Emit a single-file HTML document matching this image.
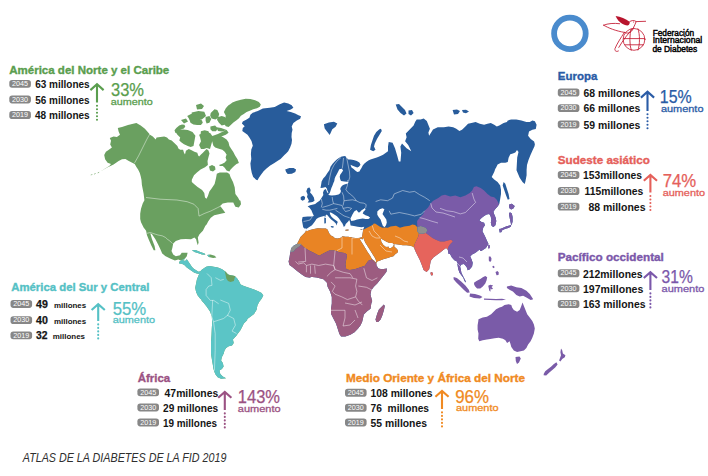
<!DOCTYPE html>
<html lang="es"><head><meta charset="utf-8"><title>Atlas de la Diabetes de la FID 2019</title>
<style>
html,body{margin:0;padding:0;background:#fff;}
body{width:708px;height:476px;overflow:hidden;position:relative;font-family:'Liberation Sans',Arial,sans-serif;}
svg text{font-family:'Liberation Sans',Arial,sans-serif;}
</style></head><body>
<svg width="708" height="476" viewBox="0 0 708 476" style="position:absolute;left:0;top:0">
<defs>
<clipPath id="cAm"><path clip-rule="evenodd" d="M100.8 171.2 105.1 168.6 109.3 166.1 111.0 164.1 107.6 162.7 105.1 159.3 104.2 155.1 105.9 151.7 108.5 150.0 111.9 147.5 110.2 144.4 111.0 140.7 109.8 138.1 113.6 136.4 116.9 136.9 120.0 134.7 118.6 131.4 117.8 128.0 122.0 127.1 128.0 125.1 133.1 123.7 136.4 122.9 140.7 125.4 144.9 128.8 149.5 133.9 150.0 134.7 152.8 136.6 155.7 139.5 156.6 137.6 160.4 137.1 164.2 136.6 167.0 137.6 168.9 139.5 171.7 140.4 174.6 143.2 177.4 146.1 178.4 148.4 180.2 149.8 183.1 149.8 184.0 152.7 185.0 154.6 185.9 150.8 188.8 148.9 191.6 150.3 194.4 151.7 197.3 152.7 198.2 155.5 199.1 156.5 201.0 154.6 202.9 152.7 204.8 150.8 206.7 148.9 208.5 150.5 209.5 153.5 208.5 157.0 207.5 161.0 207.9 165.0 205.0 167.2 200.6 169.4 196.9 172.4 194.0 175.3 191.8 179.7 191.8 181.9 194.0 184.1 197.6 187.1 202.1 190.0 204.3 192.9 205.0 197.4 206.5 198.8 207.9 195.9 209.4 191.5 211.6 188.5 214.6 184.1 216.0 178.2 216.8 173.8 219.7 172.5 224.0 172.5 227.1 172.5 229.5 174.0 230.5 177.1 233.0 182.1 234.7 187.2 235.4 194.1 238.0 197.5 239.7 200.8 236.3 204.2 232.9 202.5 227.8 202.5 222.7 203.4 220.2 205.9 222.7 209.3 225.3 212.7 221.9 213.6 217.6 214.4 214.2 215.3 210.8 217.8 208.3 221.2 206.6 224.6 205.4 225.7 202.9 230.8 199.5 234.2 197.8 237.5 198.6 242.6 197.8 245.2 196.9 242.6 196.1 239.2 194.4 237.5 191.0 239.2 185.9 238.9 180.8 239.2 175.8 240.9 173.2 243.5 172.4 247.7 171.5 251.1 173.2 254.5 175.8 256.2 180.0 255.3 181.7 252.8 185.1 252.8 187.6 252.8 186.8 256.2 184.2 259.6 180.8 260.4 178.3 259.6 174.9 260.4 170.7 258.7 165.6 256.2 162.2 253.6 160.5 249.4 158.0 244.3 155.4 239.2 152.0 234.2 150.3 233.3 152.0 239.2 154.6 246.0 155.4 250.3 153.7 250.3 151.2 245.2 148.6 239.2 146.9 235.0 146.1 230.8 143.6 227.4 141.0 222.3 140.2 218.9 140.2 213.8 141.0 208.7 142.7 203.6 144.4 200.3 143.6 193.5 141.9 185.0 141.5 180.0 140.7 176.3 139.8 172.9 138.1 169.5 136.4 166.9 134.7 164.1 132.2 162.7 128.8 161.0 125.4 159.0 122.0 159.3 118.6 161.0 113.6 164.4 106.8 167.8Z"/><path d="M209.0 166.5 212.0 165.0 215.0 166.5 215.5 169.5 213.0 171.5 210.0 170.5Z"/><path d="M175.5 131.9 178.4 130.0 183.0 129.5 187.8 130.0 192.5 131.9 195.4 135.7 194.4 141.3 193.5 146.1 190.6 147.0 187.8 146.1 184.0 144.2 181.2 142.3 179.3 140.4 180.2 137.6 177.4 134.7Z"/><path d="M174.5 130.2 176.3 127.9 179.2 125.5 182.0 124.4 184.4 124.8 185.3 126.5 183.9 128.4 181.5 129.3 179.2 130.2 177.3 132.1 175.4 133.1Z"/><path d="M187.2 116.1 190.5 114.2 193.4 113.2 196.2 113.7 195.2 115.6 193.4 117.0 196.2 118.9 199.0 119.4 201.9 120.3 202.8 122.7 200.9 125.0 197.1 125.0 193.4 124.6 190.5 122.7 189.6 120.3 188.6 118.0Z"/><path d="M205.6 117.0 209.4 116.1 211.3 118.9 209.4 122.7 206.6 123.6 205.6 120.8Z"/><path d="M210.7 113.0 214.5 109.2 217.3 110.1 219.2 113.9 218.2 117.7 215.4 119.6 211.6 118.6 210.2 115.8Z"/><path d="M217.9 117.0 221.7 116.1 225.0 117.0 225.5 121.0 225.0 124.6 221.7 125.5 218.9 122.7 217.0 119.8Z"/><path d="M200.9 131.2 204.7 130.2 208.5 131.2 209.4 134.0 207.5 137.8 204.7 140.6 201.9 139.7 200.4 135.9Z"/><path d="M210.4 126.5 215.1 125.5 217.9 128.4 216.0 131.2 212.3 131.2 210.4 129.3Z"/><path d="M199.1 134.7 202.9 132.8 206.7 133.8 210.0 132.8 212.3 135.9 217.9 134.0 223.6 131.2 226.7 130.0 228.6 132.8 225.8 134.7 221.1 136.6 216.3 140.0 212.0 142.0 210.0 148.9 206.7 148.0 203.9 148.9 201.0 148.9 199.1 145.1 201.0 141.3 200.1 137.6Z"/><path d="M216.3 127.1 221.1 128.1 226.7 130.0 222.0 131.5 218.0 131.0Z"/><path d="M232.4 102.6 236.2 101.1 240.9 99.7 245.6 98.8 250.4 99.0 255.1 100.2 258.9 102.1 260.8 104.5 259.8 106.8 257.0 108.2 253.2 109.2 250.4 110.6 246.6 112.0 243.8 113.9 240.9 115.8 239.0 118.2 236.2 120.5 233.4 122.4 230.5 125.2 228.6 127.1 225.8 126.2 223.9 123.4 224.8 119.6 225.8 115.8 223.9 112.0 225.8 108.2 228.2 105.4 230.5 104.0Z"/><path d="M212.4 142.3 216.2 137.6 220.0 136.1 222.8 137.1 226.6 139.5 228.5 142.3 229.4 146.1 231.3 148.9 233.2 151.7 235.1 155.5 237.5 159.3 238.9 163.1 236.5 164.0 234.1 165.9 232.3 167.8 230.4 169.7 229.4 171.6 226.6 170.6 224.7 167.8 222.8 165.9 220.0 165.9 219.0 165.0 221.9 164.0 224.7 162.6 226.6 160.2 225.6 157.4 226.6 154.6 224.7 151.7 222.3 149.8 218.1 148.4 215.2 147.4 213.4 145.8Z"/><path d="M191.7 112.6 198.4 111.0 204.3 111.8 206.0 116.0 201.8 119.4 196.7 120.2 191.7 118.5Z"/><path d="M196.0 105.0 201.0 103.5 204.0 106.0 202.0 109.0 197.0 109.5Z"/><path d="M181.0 120.0 186.0 118.5 188.0 121.5 184.0 123.5Z"/><path d="M232.9 200.0 237.1 199.2 240.5 200.8 241.0 204.2 238.8 207.6 235.4 206.8 233.7 203.4Z"/><path d="M99.5 171.8 98.0 172.6 97.4 173.2 98.6 172.9Z"/><path d="M96.0 173.2 94.2 173.8 93.8 174.4 95.4 174.0Z"/><path d="M92.5 174.3 90.8 174.8 90.6 175.3 92.2 175.0Z"/><path d="M191.9 249.9 196.1 250.3 200.3 251.9 204.6 253.6 205.4 254.8 202.0 254.5 197.8 253.1 194.4 251.9Z"/><path d="M207.1 255.0 210.5 254.5 214.7 255.8 216.4 257.5 213.1 257.9 208.8 257.0Z"/><path d="M201.1 270.2 203.6 268.5 206.1 266.8 209.5 266.0 213.7 266.8 217.9 267.6 222.1 269.3 225.5 271.8 228.0 274.4 230.5 275.2 234.7 276.1 237.2 278.6 238.9 281.1 240.6 284.5 243.9 286.1 249.0 287.8 254.0 289.5 258.2 291.2 261.6 292.9 263.3 295.4 261.6 298.7 259.1 302.1 257.4 305.5 256.6 309.7 254.0 313.9 250.7 316.4 247.3 318.9 247.1 320.2 243.8 323.5 242.1 326.9 240.4 330.3 237.9 333.6 236.2 336.1 234.5 337.8 232.9 339.5 233.7 342.9 232.0 345.4 228.7 346.2 226.1 347.9 224.5 350.4 223.6 353.8 221.9 357.1 221.1 360.5 222.8 363.0 223.6 366.4 221.9 368.9 219.4 370.6 220.3 373.9 222.8 376.5 226.1 378.2 221.1 378.7 217.7 377.3 215.2 373.9 213.5 368.9 212.7 363.9 211.8 358.8 211.0 353.8 211.0 348.7 211.0 342.0 211.5 335.3 211.8 328.6 212.2 321.8 211.8 316.8 210.2 311.8 206.8 306.7 203.4 302.5 200.9 300.0 203.6 301.3 200.3 298.7 197.7 295.4 196.1 292.0 195.2 287.8 196.1 283.6 196.9 279.4 198.6 275.2Z"/><path d="M179.2 261.8 182.6 260.1 185.1 260.9 186.8 259.2 188.5 261.8 190.2 264.3 191.8 266.8 193.5 268.5 196.1 270.2 198.6 271.8 201.1 271.0 201.6 272.2 199.4 273.9 196.9 273.5 194.4 272.7 191.8 271.0 189.3 269.3 186.8 267.6 184.3 265.1 181.8 263.8 179.2 263.4Z"/></clipPath>
<clipPath id="cEu"><path clip-rule="evenodd" d="M306.3 228.5 304.4 228.5 303.2 227.2 302.6 224.0 301.9 220.3 302.6 217.1 307.6 216.5 311.4 216.5 313.9 215.9 312.6 213.3 311.4 210.2 309.5 207.7 307.6 206.4 310.1 205.2 313.3 204.5 315.2 203.9 317.0 202.6 319.6 200.7 320.8 198.9 322.1 197.0 323.3 195.1 323.0 192.6 324.0 190.0 325.9 189.0 326.8 191.5 327.8 193.3 328.4 192.5 327.4 190.5 326.8 188.5 325.5 187.0 323.0 187.8 320.5 188.0 321.1 184.7 321.6 181.5 323.2 178.4 325.3 176.3 327.4 173.1 329.5 170.0 330.5 166.8 332.6 163.7 334.7 161.6 336.8 159.5 338.9 157.9 341.0 156.8 343.1 156.3 345.2 156.1 346.8 157.9 348.4 159.5 350.5 159.5 353.6 160.0 356.8 161.0 359.4 162.6 360.5 164.7 358.9 166.8 357.3 167.4 355.2 166.8 352.6 165.8 350.5 164.7 351.5 167.4 353.6 168.9 355.2 170.5 357.3 172.1 359.4 171.6 360.5 169.5 361.5 167.9 362.6 165.8 364.2 163.7 366.3 162.1 368.4 160.5 370.5 159.5 373.6 158.4 376.8 157.4 379.9 156.3 383.1 154.7 385.2 153.2 388.0 151.3 388.0 146.6 388.7 142.0 392.6 142.7 395.0 148.2 397.3 155.9 398.8 161.4 400.5 161.5 401.2 152.8 400.4 146.6 402.0 143.5 406.6 148.2 411.3 151.3 408.2 145.1 405.1 141.2 406.6 137.3 405.8 133.4 409.7 129.5 413.6 125.6 415.2 121.8 416.7 119.4 420.6 119.4 423.7 118.6 426.8 121.0 428.4 124.9 429.9 128.7 428.4 132.6 429.1 135.7 433.0 129.5 437.7 127.2 443.9 127.2 448.6 126.4 453.2 127.2 456.3 128.7 459.4 131.1 462.0 129.7 465.4 126.4 468.0 123.8 471.4 123.0 475.6 122.1 479.8 123.8 484.1 124.7 487.5 123.8 490.8 123.0 494.2 124.7 496.8 126.4 499.3 125.5 503.6 123.0 506.9 122.1 507.8 120.4 511.2 119.6 516.3 119.6 521.4 120.4 526.4 122.1 529.8 122.1 532.4 120.4 534.9 121.3 536.6 124.7 535.8 128.9 532.4 129.7 529.0 131.4 528.1 135.7 530.7 139.1 534.1 141.6 534.9 144.2 534.5 146.2 532.5 150.5 530.5 155.0 528.5 160.0 527.0 165.0 526.6 170.0 526.6 175.3 525.4 181.6 524.7 184.1 522.5 182.0 519.7 177.8 516.5 170.2 517.2 157.6 518.5 152.0 517.0 150.0 515.3 152.6 512.9 153.5 510.3 154.3 508.6 157.7 507.8 161.9 505.3 162.8 501.0 162.8 497.6 164.5 495.9 167.9 494.2 171.3 495.9 167.6 494.2 171.9 491.7 176.9 494.2 179.5 497.6 182.0 500.2 185.4 501.0 189.7 501.0 193.9 500.2 199.0 499.3 204.1 497.6 206.6 495.1 209.2 493.4 211.7 494.2 214.2 495.6 217.6 496.3 221.0 495.4 225.3 493.4 226.9 491.7 226.1 490.8 222.7 491.4 219.3 490.5 215.9 489.2 213.9 486.6 214.6 484.1 215.9 481.5 218.1 479.3 220.2 481.5 221.9 484.1 222.7 484.9 225.3 483.2 227.8 482.4 231.2 484.1 234.6 485.8 238.0 486.6 240.0 488.5 243.9 485.9 248.1 481.7 250.7 480.5 251.0 479.6 249.4 476.5 252.0 474.6 253.2 472.1 254.5 470.2 256.4 471.4 258.9 472.7 262.7 472.1 266.4 469.6 269.6 467.7 270.2 467.0 267.7 465.2 265.2 463.9 263.9 461.4 264.6 460.1 266.4 460.7 269.0 461.4 272.7 462.6 275.3 463.9 277.8 465.8 281.6 465.8 282.4 464.5 281.0 463.3 277.8 461.4 275.3 459.5 272.7 458.2 269.0 457.6 265.2 457.0 261.4 454.4 260.2 451.9 257.6 450.0 253.9 448.6 254.1 447.8 249.8 446.1 248.1 443.6 249.8 440.2 252.4 436.8 254.9 433.4 257.5 430.8 260.8 430.0 265.1 429.2 269.3 426.6 271.9 423.6 270.0 421.7 264.7 419.8 260.0 417.9 256.2 416.5 253.4 415.1 250.5 414.1 247.7 413.2 246.7 410.4 245.8 406.6 245.3 402.8 245.3 398.1 244.4 394.3 243.9 394.3 246.7 396.2 248.2 398.1 250.5 397.6 252.4 395.2 254.3 393.4 256.2 390.5 257.1 387.7 258.1 383.9 259.0 380.1 260.4 377.3 261.4 376.3 262.8 376.5 265.5 378.5 268.5 381.9 269.2 386.9 268.4 386.5 271.7 384.0 275.0 380.6 279.2 377.2 283.4 373.9 286.8 371.3 290.2 370.5 294.4 371.3 297.7 372.2 301.1 371.3 303.6 370.5 308.7 367.1 311.2 363.8 314.5 362.9 318.7 362.1 322.1 360.4 325.5 357.9 328.8 354.5 332.2 350.3 334.7 345.3 336.4 341.1 336.4 339.4 333.9 337.7 328.8 336.1 323.8 333.5 318.7 331.0 313.7 331.0 308.7 331.8 303.6 331.8 296.9 330.2 291.8 327.6 286.8 326.8 282.6 323.4 279.2 316.7 277.6 310.0 276.7 310.7 277.7 305.6 276.9 301.4 274.3 297.1 270.9 292.9 267.5 289.5 265.0 288.6 261.6 289.5 257.4 290.3 252.3 291.2 248.1 293.7 245.5 297.1 243.8 298.8 240.4 300.5 237.0 303.9 233.6 305.5 232.0ZM339.3 169.2 341.8 168.8 343.1 170.5 341.8 172.6 340.2 174.7 339.7 176.8 340.2 179.3 341.0 181.0 344.4 181.4 346.9 181.8 348.6 182.3 347.7 183.5 344.4 184.4 342.7 185.2 341.0 186.9 340.2 189.0 341.0 191.1 340.2 193.2 338.5 194.5 335.1 195.3 331.8 195.5 329.5 195.2 328.2 194.3 329.5 193.5 330.3 191.5 330.9 189.4 331.5 187.7 332.6 185.2 333.4 183.1 334.3 181.0 334.7 178.5 335.5 176.4 336.8 174.3 338.1 171.8ZM305.8 230.8 306.3 229.0 308.9 227.2 312.0 225.3 313.9 222.8 315.2 220.9 316.4 219.0 318.3 217.7 320.2 217.1 322.1 216.5 324.0 215.9 325.9 215.2 326.8 214.4 328.1 216.0 329.7 217.9 331.2 219.5 332.8 220.7 334.1 221.7 335.3 223.0 336.3 223.9 336.2 225.5 337.0 224.5 337.2 223.0 337.9 222.0 336.5 220.8 334.7 219.5 333.1 218.2 331.5 216.7 330.3 214.8 329.7 212.6 330.9 212.6 333.1 213.8 335.0 215.1 336.9 216.3 338.8 218.2 340.0 220.1 341.3 222.0 342.3 223.3 343.2 225.2 343.8 227.0 345.1 225.8 345.7 223.9 347.0 222.6 348.2 221.4 349.2 220.1 350.0 222.0 350.3 224.0 350.6 225.4 353.9 225.9 357.7 226.8 361.5 227.3 364.3 226.8 363.4 228.7 362.9 231.5 362.4 234.8 361.9 237.2 359.6 237.7 356.7 238.2 353.9 237.7 351.1 237.2 348.2 236.7 345.4 236.7 342.6 236.3 340.7 237.7 337.8 238.6 335.0 238.2 333.0 236.5 330.9 235.4 329.0 232.9 327.7 229.7 325.9 228.5 322.0 228.6 318.0 228.3 314.0 229.0 310.0 230.0 307.5 231.0ZM350.4 218.6 351.5 216.5 352.3 214.8 354.2 211.5 356.5 210.1 357.5 211.2 358.6 212.6 359.8 212.3 361.3 210.6 363.2 209.2 365.0 208.2 365.5 209.7 363.6 211.5 362.7 213.4 365.5 215.3 368.4 216.3 370.2 217.7 368.4 219.1 365.5 219.1 362.7 218.6 359.8 219.1 357.0 219.6 354.2 220.5 351.3 221.0ZM377.3 211.5 379.7 209.2 382.5 208.2 384.4 209.2 383.5 211.5 382.5 213.9 384.4 216.7 386.3 219.6 386.8 222.4 386.0 225.2 384.5 227.3 382.8 225.8 381.6 222.4 380.6 219.6 378.8 217.2 377.3 214.8ZM361.0 238.5 362.3 239.5 363.4 237.7 364.0 239.5 365.2 242.4 367.6 246.2 370.0 250.0 372.3 253.8 374.7 257.5 375.8 259.8 376.2 261.6 375.3 262.2 374.0 260.5 371.9 259.0 370.0 255.6 367.6 251.9 365.2 248.1 362.9 244.3 360.5 240.5 359.8 239.0ZM380.8 238.5 383.5 240.0 386.5 241.8 389.5 243.0 392.5 243.0 394.0 244.6 393.0 246.5 391.0 247.9 389.0 248.3 388.3 246.5 387.2 247.0 385.5 246.8 383.2 244.8 381.3 241.8Z"/><path d="M375.5 319.6 377.2 313.7 378.9 309.5 381.4 307.0 383.9 304.5 384.8 306.1 383.9 310.3 382.3 315.4 380.6 319.6 378.1 322.1 376.4 322.1Z"/><path d="M307.6 188.1 309.5 187.5 310.7 190.0 310.1 192.6 312.0 194.4 313.9 197.6 314.5 200.7 312.6 202.0 309.5 202.6 307.6 202.6 308.9 200.7 308.2 198.9 307.0 197.0 307.6 194.4 306.3 191.3Z"/><path d="M300.7 197.0 303.2 195.7 305.1 197.0 304.8 199.5 302.6 200.7 300.7 199.5Z"/><path d="M330.6 226.1 333.7 226.2 333.4 227.7 331.5 227.4Z"/><path d="M324.3 217.6 325.9 217.9 325.9 223.3 324.3 223.6Z"/><path d="M324.6 214.4 325.6 214.4 325.6 216.7 324.6 216.7Z"/><path d="M345.5 229.8 348.5 229.6 348.5 230.6 345.5 230.8Z"/><path d="M360.4 229.2 362.5 229.0 362.2 229.8 360.4 229.8Z"/><path d="M430.8 271.9 432.5 272.4 433.1 274.7 431.7 275.8 430.5 274.1Z"/><path d="M381.0 128.7 381.8 131.1 379.4 135.0 377.1 138.8 374.8 143.5 374.0 146.6 375.5 149.7 373.2 151.3 370.1 149.7 370.9 145.1 372.4 140.4 374.0 135.7 376.3 131.9 379.4 129.2Z"/><path d="M395.7 104.5 399.0 104.0 402.0 107.0 405.0 110.0 406.5 113.5 404.0 115.5 400.5 113.0 397.5 109.5Z"/><path d="M408.5 110.5 412.0 110.0 413.6 113.0 411.0 115.5 408.5 114.0Z"/><path d="M452.6 110.0 457.0 109.5 460.0 111.0 458.0 114.0 454.0 114.5Z"/><path d="M462.0 110.0 466.0 109.8 469.0 111.5 466.0 113.2 463.0 112.6Z"/><path d="M503.6 182.0 505.3 183.7 506.9 188.8 508.6 193.9 509.5 199.0 507.8 199.8 506.1 195.6 504.4 190.5 502.7 185.4Z"/><path d="M509.5 204.2 511.8 203.7 514.7 206.0 513.6 208.3 511.2 209.5 509.5 208.3 508.9 206.0Z"/><path d="M509.9 212.3 511.8 213.5 512.6 217.0 512.6 221.6 511.8 224.5 509.5 225.6 506.6 226.2 503.7 227.4 501.4 228.5 499.7 229.1 499.5 230.8 500.8 231.1 503.2 229.7 505.5 228.8 508.4 227.9 510.7 226.8 511.2 225.1 510.7 222.7 510.1 219.9 509.5 217.0 508.9 214.1Z"/><path d="M499.1 228.8 501.2 229.6 501.8 232.0 499.7 232.6Z"/></clipPath>
</defs>
<g clip-path="url(#cAm)"><rect x="90" y="90" width="200" height="300" fill="#6aa060"/>
<path d="M170 262 179.5 260.5 183 259.6 185 258.3 188 258.8 189 256 190 249 209.5 249 209.5 262 260 262 280 300 280 390 190 390 190 300 170 275Z" fill="#5bc5c6"/>
<path d="M224 268 228 268 231 272 236 276 234.7 277.7 233.9 281.1 230.5 281.9 228 281.1 226.3 278.6 225.5 274.4Z" fill="#6aa060"/>
</g>
<path d="M252.7 112.8 257.8 111.1 262.9 108.6 269.7 107.7 274.7 106.9 279.8 104.3 284.1 102.6 288.3 103.5 291.7 105.2 293.4 107.7 290.8 109.4 286.6 111.1 290.8 111.9 295.1 113.6 298.5 115.3 301.0 116.2 300.2 118.7 296.8 120.4 293.4 123.0 291.7 126.4 292.5 129.7 291.7 133.1 291.5 137.0 292.0 140.0 291.5 143.8 290.1 147.6 288.2 151.3 286.3 153.2 284.4 155.1 282.5 157.0 280.6 158.9 277.8 160.8 274.0 163.2 270.2 165.5 266.5 168.4 263.6 171.2 260.8 175.0 258.9 177.8 257.5 180.2 256.1 179.7 253.2 176.9 251.8 173.1 250.9 168.4 250.4 163.6 251.3 158.9 250.9 154.2 251.3 149.5 252.8 145.7 251.5 141.0 249.4 137.5 247.5 134.7 244.7 132.8 242.3 130.9 242.8 128.1 244.7 126.2 241.9 123.4 242.8 121.5 246.6 119.6 249.4 117.7 250.4 114.8ZM285.2 169.6 289.4 167.9 293.6 167.9 296.1 169.6 295.3 172.1 291.9 173.8 287.7 174.1 286.1 172.1ZM323.9 124.2 328.9 122.5 333.9 121.7 337.3 123.4 335.6 126.7 332.3 129.2 329.7 135.1 327.2 131.8 324.7 128.4Z" fill="#285c9b"/>
<g clip-path="url(#cEu)"><rect x="280" y="90" width="300" height="300" fill="#285c9b"/>
<path d="M285 236 298 233 303 231 306 230.2 309 229.3 312 227.6 320 227 327 226.6 329.5 228.3 334 228.4 337 227.8 345 228.5 355 229 361 229.5 363.7 229.5 367.1 227.8 372.2 225.3 373.9 223.6 375.5 223.7 379.6 226.4 382.3 227.8 385 227.4 387.8 227.8 390.5 226.4 396 225.7 400 227.8 404.2 226.4 409.6 225.7 412.3 224.4 415.1 225.1 417.1 227.1 417.3 231.2 419 233.7 418.1 237.1 416.4 240.5 414.7 243.9 413.9 247.3 415.6 249.8 412 256 395 266 383 267 377 264 372 259.5 368.3 260.8 364.9 265.8 359.8 267.5 354.7 269.2 349.7 270.1 346.3 269.2 345.4 264.2 346.3 259.1 347.1 254.8 344.6 253.1 339.5 252.3 334.4 250.6 329.3 250.6 324.2 253.1 319.2 255.7 314.1 253.1 309 250.6 303.9 247.2 301.4 244.7 297 243.8 285 243.8Z" fill="#e98424"/>
<path d="M270 252.3 290.3 252.3 293.7 251.4 295.4 248.9 298 247.2 300.5 245.5 301.4 244.7 303.9 247.2 309 250.6 314.1 253.1 319.2 255.7 324.2 253.1 329.3 250.6 334.4 250.6 339.5 252.3 344.6 253.1 347.1 254.8 346.3 259.1 345.4 264.2 346.3 269.2 349.7 270.1 354.7 269.2 359.8 267.5 364.9 265.8 368.3 260.8 372 259.5 377 264 383 267 400 266 410 350 270 350Z" fill="#9c5c80"/>
<path d="M289.5 251.4 291.2 248.1 293.7 245.5 297.1 243.8 301.4 243.8 300.5 245.5 298 247.2 295.4 248.9 293.7 251.4 290.3 252.3 285 253 285 250Z" fill="#8f8f8f"/>
<path d="M417.3 226.9 417.1 221 419.7 217.6 423.1 214.2 424.7 210.8 428.1 207.5 430.7 203.2 433.2 200.7 438.3 198.1 441.7 195.6 445.1 194.7 450.2 196.4 455.3 195.6 460.3 197.3 465.4 195.6 469.7 193.1 472.2 190.5 473.9 187.1 476.4 186.3 480.7 188 484.1 190.5 487.5 193.9 490.8 196.4 494.2 197.3 496.8 199.8 498.5 203.2 499.3 204.9 500.5 206.5 505 205 515 200 540 220 570 300 570 390 440 390 440 290 446 275 447 252 447.8 249 448.6 246.4 450.3 243.9 452.9 241.4 451.2 239.7 447.8 240.5 444.4 241.4 440.2 241.4 435.9 239.7 432.5 238 429.2 235.4 425.8 232.9 427.5 230.3 425.8 227.8 420.7 226.1Z" fill="#7a5ba8"/>
<path d="M419 233.7 422.4 233.7 425.8 232.9 429.2 235.4 432.5 238 435.9 239.7 440.2 241.4 444.4 241.4 447.8 240.5 451.2 239.7 452.9 241.4 450.3 243.9 448.6 246.4 447.8 249 447 252 440 262 432 278 420 278 410 256 413 250 415.6 249.8 413.9 247.3 414.7 243.9 416.4 240.5 418.1 237.1Z" fill="#e6645c"/>
<path d="M417.3 226.9 420.7 226.1 425.8 227.8 427.5 230.3 425.8 232.9 422.4 233.7 419 233.7 417.3 231.2Z" fill="#8f8f8f"/>
</g>
<path d="M488.2 244.7 489.8 244.9 490.0 247.5 488.8 249.3 488.0 247.5ZM453.6 277.1 456.9 278.0 461.2 281.4 465.4 285.6 468.8 289.8 469.7 292.4 467.1 292.7 463.7 289.8 459.5 285.6 456.1 282.2 453.6 279.2ZM470.0 293.5 475.0 294.0 480.0 295.5 482.5 297.0 480.0 298.5 474.0 298.0 469.5 296.5ZM474.0 282.8 476.5 280.9 480.3 279.0 482.8 277.2 485.3 275.9 487.2 277.2 486.6 280.3 485.3 283.5 482.8 286.6 480.3 288.5 477.1 288.5 475.2 286.6 474.2 284.7ZM488.2 285.8 490.3 284.8 493.2 285.4 491.5 287.0 493.0 288.5 491.8 289.4 490.6 288.6 490.4 291.8 489.2 290.5 488.8 288.2ZM488.8 256.6 490.5 256.4 491.5 258.5 491.2 261.0 490.0 262.0 488.8 260.5ZM495.5 272.0 497.5 271.0 498.8 272.5 498.5 275.0 496.5 275.3ZM492.3 266.3 494.0 265.8 494.6 267.5 493.0 268.3ZM506.9 286.4 511.2 285.6 516.3 287.3 521.4 288.1 526.4 290.7 529.8 294.1 533.2 299.2 530.7 300.0 526.4 297.5 523.1 295.8 519.7 296.6 516.3 294.9 512.9 291.5 509.5 289.8 506.9 288.1ZM484.0 298.5 490.0 298.8 496.0 299.0 502.0 298.8 506.0 299.5 502.0 300.3 496.0 300.2 490.0 300.0 484.0 299.7ZM478.5 319.3 482.7 317.6 486.9 316.8 491.1 314.3 493.6 311.8 496.1 309.2 499.5 307.6 502.0 306.7 504.5 305.0 508.7 304.2 511.3 305.0 512.1 307.6 513.8 310.1 517.1 311.8 519.7 310.1 521.3 305.9 522.5 302.5 523.9 305.9 525.5 310.1 527.2 314.3 529.7 317.6 532.3 321.0 533.9 324.4 534.8 328.6 533.9 333.6 532.3 337.8 530.6 341.2 528.1 344.5 526.4 347.9 523.9 350.4 520.5 351.3 517.1 352.1 513.8 350.4 511.3 347.1 510.4 343.7 509.6 341.2 507.1 342.9 505.4 340.3 502.9 338.7 498.7 337.8 494.5 338.3 490.3 339.0 486.9 339.5 482.7 340.3 479.3 341.2 478.2 338.7 478.5 333.6 477.6 329.4 477.6 325.2 478.2 321.8ZM515.5 357.0 519.5 356.5 520.8 358.5 519.0 362.5 517.0 364.0 515.8 361.0ZM561.0 348.4 562.2 350.3 562.9 353.4 565.4 355.3 564.8 357.2 562.2 359.1 560.4 361.6 559.1 360.4 560.1 357.8 561.0 355.3 560.4 352.2ZM556.4 362.3 557.6 364.6 555.2 367.6 552.0 370.3 548.8 372.9 546.2 375.6 543.6 375.2 543.8 373.8 545.2 371.3 548.0 369.1 551.0 366.7 553.6 364.2Z" fill="#7a5ba8"/>
<g fill="none" stroke="#ffffff" stroke-opacity="0.75" stroke-width="0.6"><polyline points="150,133.7 147,139 144,145 141,151 138.5,156 134.5,163"/><polyline points="146,197.5 160,199.2 176.9,200 187.1,201.7 193.9,204.2 198.1,208.5 199,216.1 204.1,213.6 210.8,211 217.6,207.6 221,205.9"/><polyline points="147,233.3 150.3,232.5 155.4,234.2 158,235 162.2,235.8 165.6,237.5 167.3,239.2 169.8,240.9 172.4,243.5"/><polyline points="440,208.3 446.8,210.8 453.6,211.7 460.3,213.9 465.4,212.5 469.7,208.3 475.6,202.4 473.9,199 472.2,193"/><polyline points="375.6,201.5 380.7,199.8 387.5,200.7 392.5,198.1 394.2,193.9 402.7,190.5 409.5,192.2 414.6,191.4 419.7,194.7 424.7,197.3 429.8,200.7"/><polyline points="389.2,210.8 390.8,214.2 399.3,212.5 407.8,214.2 414.6,215.9 421.4,214.2 424.7,210.8"/><polyline points="347.8,180 347.3,185.7 345.9,189.5 347.8,192.3 351.6,195.1 354.4,198 356.3,200.8 360.1,202.7 363.9,203.2 366.2,204.6 365.8,207.4 363.9,209.3"/><polyline points="344,200.8 347.8,200.3 352.5,199.8 356.3,200.8"/><polyline points="342.1,192.3 343.6,196.1 344,200.8 343.1,205.5"/><polyline points="332.2,197 332.7,200.8 333.6,203.6"/><polyline points="321.3,198.9 322.3,203.6 321.3,207.4"/><polyline points="322.3,207.4 328.9,205.5 333.6,203.6 338.4,204.6 342.1,205.5 343.1,208.4 347.8,207.4 351.6,208.4"/><polyline points="322.3,209.3 326.1,210.2 329.8,210.2 333.6,209.3 337.4,208.4"/><polyline points="335.5,210.2 338.4,212.1 341.2,214 344,215.9 346.9,216.9 349.7,217.8"/><polyline points="343.1,208.4 345.5,211.5 349.5,210.5 351.6,208.4"/><polyline points="312.5,216.3 310,220 306,221 303.5,221.5"/><polyline points="341,157.5 337,161 334,165 331.5,170 330,176 329,181 328.5,185"/><polyline points="343.5,158 343,163 342.3,168.5"/><polyline points="346.5,157 347.5,162 348.5,167 349.5,172 349.8,177 348.5,181.5"/><polyline points="305,247.7 305.7,261.4 298.2,262.1"/><polyline points="335.1,250.5 333.7,265.5 335.1,269.6"/><polyline points="318.7,265.5 325.5,264.1 333.7,265.5 335.1,269.6 331,272.3 326.9,276.4"/><polyline points="335.1,269.6 343.3,272.3 350.1,273.7 352.8,277.8"/><polyline points="335.1,277.8 341.9,277.8 350.1,277.8 356.9,279.2"/><polyline points="331,281.9 335.1,286 332.3,291.4 335.1,294.2"/><polyline points="356.9,279.2 355.6,286 356.9,291.4 355.6,296.9 358.3,301 362.4,305.1"/><polyline points="335.1,294.2 341.9,296.9 347.4,299.6 355.6,296.9"/><polyline points="363.8,268.2 366.5,277.8 372,280.5 377.4,277.8"/><polyline points="358.3,286 366.5,287.3 372,290.1"/><polyline points="306.4,265.5 306.4,272.3"/><polyline points="310.5,265.5 310.5,273.7"/><polyline points="314.6,265.5 315.3,273.7"/><polyline points="295.5,261.4 298.2,264.1 303.7,262.8 306.4,265.5 311.9,264.1 318.7,265.5"/><polyline points="331,310.3 345,310.3 345,318 343,326"/><polyline points="343,326 350,325 355,320"/><polyline points="345,303 355,305 362,302"/><polyline points="355,310 358,318"/><polyline points="207,273.5 211.2,277.7 212,285.3 208.7,286.1 206.1,289.5 206.1,295.4 210.3,300.4 213.7,300.4 218.7,303.8"/><polyline points="215.4,277.7 220.4,280.3 223.8,279.4"/><polyline points="212.7,300 211.8,316.8 213.5,321.8 215.2,333.6 215.2,350.4 214.4,370.6"/><polyline points="213.5,321.8 223.6,318.5 227.8,315.1 230.3,310.1 228.7,303.4 220.3,300"/><polyline points="227,315.1 233.7,318.5 235.4,325.2 232,331.1"/><polyline points="232,331.1 236.5,333.5"/><polyline points="430.7,203.2 432,208 436,212 443,213 449,215 455,217"/><polyline points="419.7,217.6 425,219 431,221 438,223"/><polyline points="369,231 372,236 376,238 380,238"/><polyline points="372.2,225.3 374,231 378,235 380.8,238.5"/><polyline points="342,237 342,248 337,250.6"/><polyline points="352,238 352,254.5"/><polyline points="359.6,237.7 352,238"/><polyline points="380,245 386,251 392,252"/><polyline points="395,236 400,238 404,241 408,242"/><polyline points="459,257 463,258 467,262"/><polyline points="456,262 460,266"/></g>
<text x="9.2" y="74.1" font-size="11.00" font-weight="bold" font-style="normal" fill="#5a9e4e" textLength="160.1" lengthAdjust="spacingAndGlyphs" stroke="#5a9e4e" stroke-width="0.35">América del Norte y el Caribe</text>
<rect x="9.3" y="79.9" width="21.6" height="7.9" rx="2.8" fill="#878787"/>
<text x="12.1" y="86.0" font-size="6.70" font-weight="normal" font-style="normal" fill="#ffffff" textLength="16.0" lengthAdjust="spacingAndGlyphs">2045</text>
<text x="35.2" y="88.1" font-size="10.10" font-weight="bold" font-style="normal" fill="#151515" textLength="54.5" lengthAdjust="spacingAndGlyphs">63 millones</text>
<rect x="9.3" y="95.5" width="21.6" height="7.9" rx="2.8" fill="#878787"/>
<text x="12.1" y="101.6" font-size="6.70" font-weight="normal" font-style="normal" fill="#ffffff" textLength="16.0" lengthAdjust="spacingAndGlyphs">2030</text>
<text x="35.2" y="103.7" font-size="10.10" font-weight="bold" font-style="normal" fill="#151515" textLength="54.3" lengthAdjust="spacingAndGlyphs">56 millones</text>
<rect x="9.3" y="111.1" width="21.6" height="7.9" rx="2.8" fill="#878787"/>
<text x="12.1" y="117.2" font-size="6.70" font-weight="normal" font-style="normal" fill="#ffffff" textLength="16.0" lengthAdjust="spacingAndGlyphs">2019</text>
<text x="35.0" y="119.3" font-size="10.10" font-weight="bold" font-style="normal" fill="#151515" textLength="54.7" lengthAdjust="spacingAndGlyphs">48 millones</text>
<path d="M97.0 84.1 L97.0 102.4 M90.4 90.1 L97.0 84.2 L103.6 90.1" stroke="#5a9e4e" stroke-width="2.1" fill="none" stroke-linecap="butt" stroke-linejoin="miter"/>
<line x1="97.0" y1="105.8" x2="97.0" y2="120.5" stroke="#5a9e4e" stroke-width="2.1" stroke-linecap="round" stroke-dasharray="0 3.5"/>
<text x="111.0" y="95.9" font-size="17.80" font-weight="normal" font-style="normal" fill="#5a9e4e" textLength="33.0" lengthAdjust="spacingAndGlyphs" stroke="#5a9e4e" stroke-width="0.25">33%</text>
<text x="110.8" y="104.8" font-size="9.80" font-weight="normal" font-style="normal" fill="#5a9e4e" textLength="42.0" lengthAdjust="spacingAndGlyphs" stroke="#5a9e4e" stroke-width="0.3">aumento</text>
<text x="557.8" y="80.0" font-size="11.00" font-weight="bold" font-style="normal" fill="#2a5ca6" textLength="39.5" lengthAdjust="spacingAndGlyphs" stroke="#2a5ca6" stroke-width="0.35">Europa</text>
<rect x="557.8" y="88.6" width="21.6" height="7.9" rx="2.8" fill="#878787"/>
<text x="560.6" y="94.7" font-size="6.70" font-weight="normal" font-style="normal" fill="#ffffff" textLength="16.0" lengthAdjust="spacingAndGlyphs">2045</text>
<text x="583.5" y="96.8" font-size="10.40" font-weight="bold" font-style="normal" fill="#151515" textLength="56.9" lengthAdjust="spacingAndGlyphs">68 millones</text>
<rect x="557.8" y="104.2" width="21.6" height="7.9" rx="2.8" fill="#878787"/>
<text x="560.6" y="110.3" font-size="6.70" font-weight="normal" font-style="normal" fill="#ffffff" textLength="16.0" lengthAdjust="spacingAndGlyphs">2030</text>
<text x="583.5" y="112.4" font-size="10.40" font-weight="bold" font-style="normal" fill="#151515" textLength="56.9" lengthAdjust="spacingAndGlyphs">66 millones</text>
<rect x="557.8" y="120.5" width="21.6" height="7.9" rx="2.8" fill="#878787"/>
<text x="560.6" y="126.6" font-size="6.70" font-weight="normal" font-style="normal" fill="#ffffff" textLength="16.0" lengthAdjust="spacingAndGlyphs">2019</text>
<text x="583.5" y="128.7" font-size="10.40" font-weight="bold" font-style="normal" fill="#151515" textLength="56.9" lengthAdjust="spacingAndGlyphs">59 millones</text>
<path d="M647.5 91.6 L647.5 110.9 M640.9 97.6 L647.5 91.7 L654.1 97.6" stroke="#2a5ca6" stroke-width="2.1" fill="none" stroke-linecap="butt" stroke-linejoin="miter"/>
<line x1="647.5" y1="114.3" x2="647.5" y2="129.2" stroke="#2a5ca6" stroke-width="2.1" stroke-linecap="round" stroke-dasharray="0 3.5"/>
<text x="659.8" y="103.3" font-size="17.80" font-weight="normal" font-style="normal" fill="#2a5ca6" textLength="31.9" lengthAdjust="spacingAndGlyphs" stroke="#2a5ca6" stroke-width="0.25">15%</text>
<text x="660.9" y="111.9" font-size="9.80" font-weight="normal" font-style="normal" fill="#2a5ca6" textLength="42.6" lengthAdjust="spacingAndGlyphs" stroke="#2a5ca6" stroke-width="0.3">aumento</text>
<text x="557.8" y="164.0" font-size="11.00" font-weight="bold" font-style="normal" fill="#e5605a" textLength="92.0" lengthAdjust="spacingAndGlyphs" stroke="#e5605a" stroke-width="0.35">Sudeste asiático</text>
<rect x="557.8" y="171.0" width="21.6" height="7.9" rx="2.8" fill="#878787"/>
<text x="560.6" y="177.1" font-size="6.70" font-weight="normal" font-style="normal" fill="#ffffff" textLength="16.0" lengthAdjust="spacingAndGlyphs">2045</text>
<text x="583.0" y="179.2" font-size="10.40" font-weight="bold" font-style="normal" fill="#151515" textLength="59.0" lengthAdjust="spacingAndGlyphs">153millones</text>
<rect x="557.8" y="187.1" width="21.6" height="7.9" rx="2.8" fill="#878787"/>
<text x="560.6" y="193.2" font-size="6.70" font-weight="normal" font-style="normal" fill="#ffffff" textLength="16.0" lengthAdjust="spacingAndGlyphs">2030</text>
<text x="584.6" y="195.3" font-size="10.40" font-weight="bold" font-style="normal" fill="#151515" textLength="58.7" lengthAdjust="spacingAndGlyphs">115millones</text>
<rect x="557.8" y="202.7" width="21.6" height="7.9" rx="2.8" fill="#878787"/>
<text x="560.6" y="208.8" font-size="6.70" font-weight="normal" font-style="normal" fill="#ffffff" textLength="16.0" lengthAdjust="spacingAndGlyphs">2019</text>
<text x="588.4" y="210.9" font-size="10.40" font-weight="bold" font-style="normal" fill="#151515" textLength="57.1" lengthAdjust="spacingAndGlyphs">88 millones</text>
<path d="M650.4 174.8 L650.4 192.6 M643.8 180.8 L650.4 174.9 L657.0 180.8" stroke="#e5605a" stroke-width="2.1" fill="none" stroke-linecap="butt" stroke-linejoin="miter"/>
<line x1="650.4" y1="196.0" x2="650.4" y2="211.7" stroke="#e5605a" stroke-width="2.1" stroke-linecap="round" stroke-dasharray="0 3.5"/>
<text x="662.7" y="186.7" font-size="17.80" font-weight="normal" font-style="normal" fill="#e5605a" textLength="33.5" lengthAdjust="spacingAndGlyphs" stroke="#e5605a" stroke-width="0.25">74%</text>
<text x="662.7" y="195.9" font-size="9.80" font-weight="normal" font-style="normal" fill="#e5605a" textLength="42.4" lengthAdjust="spacingAndGlyphs" stroke="#e5605a" stroke-width="0.3">aumento</text>
<text x="557.8" y="261.2" font-size="11.00" font-weight="bold" font-style="normal" fill="#7b58aa" textLength="106.0" lengthAdjust="spacingAndGlyphs" stroke="#7b58aa" stroke-width="0.35">Pacífico occidental</text>
<rect x="557.8" y="269.3" width="21.6" height="7.9" rx="2.8" fill="#878787"/>
<text x="560.6" y="275.4" font-size="6.70" font-weight="normal" font-style="normal" fill="#ffffff" textLength="16.0" lengthAdjust="spacingAndGlyphs">2045</text>
<text x="583.0" y="277.5" font-size="10.40" font-weight="bold" font-style="normal" fill="#151515" textLength="59.6" lengthAdjust="spacingAndGlyphs">212millones</text>
<rect x="557.8" y="284.4" width="21.6" height="7.9" rx="2.8" fill="#878787"/>
<text x="560.6" y="290.5" font-size="6.70" font-weight="normal" font-style="normal" fill="#ffffff" textLength="16.0" lengthAdjust="spacingAndGlyphs">2030</text>
<text x="583.0" y="292.6" font-size="10.40" font-weight="bold" font-style="normal" fill="#151515" textLength="60.3" lengthAdjust="spacingAndGlyphs">197millones</text>
<rect x="557.8" y="300.1" width="21.6" height="7.9" rx="2.8" fill="#878787"/>
<text x="560.6" y="306.2" font-size="6.70" font-weight="normal" font-style="normal" fill="#ffffff" textLength="16.0" lengthAdjust="spacingAndGlyphs">2019</text>
<text x="583.0" y="308.3" font-size="10.40" font-weight="bold" font-style="normal" fill="#151515" textLength="62.5" lengthAdjust="spacingAndGlyphs">163 millones</text>
<path d="M650.4 272.0 L650.4 290.0 M643.8 278.0 L650.4 272.1 L657.0 278.0" stroke="#7b58aa" stroke-width="2.1" fill="none" stroke-linecap="butt" stroke-linejoin="miter"/>
<line x1="650.4" y1="293.4" x2="650.4" y2="309.2" stroke="#7b58aa" stroke-width="2.1" stroke-linecap="round" stroke-dasharray="0 3.5"/>
<text x="661.6" y="283.3" font-size="17.80" font-weight="normal" font-style="normal" fill="#7b58aa" textLength="31.2" lengthAdjust="spacingAndGlyphs" stroke="#7b58aa" stroke-width="0.25">31%</text>
<text x="661.6" y="291.9" font-size="9.80" font-weight="normal" font-style="normal" fill="#7b58aa" textLength="42.8" lengthAdjust="spacingAndGlyphs" stroke="#7b58aa" stroke-width="0.3">aumento</text>
<text x="11.2" y="291.0" font-size="11.00" font-weight="bold" font-style="normal" fill="#55c1c5" textLength="138.3" lengthAdjust="spacingAndGlyphs" stroke="#55c1c5" stroke-width="0.35">América del Sur y Central</text>
<rect x="10.5" y="300.0" width="21.6" height="7.9" rx="2.8" fill="#878787"/>
<text x="13.3" y="306.1" font-size="6.70" font-weight="normal" font-style="normal" fill="#ffffff" textLength="16.0" lengthAdjust="spacingAndGlyphs">2045</text>
<rect x="10.5" y="316.2" width="21.6" height="7.9" rx="2.8" fill="#878787"/>
<text x="13.3" y="322.3" font-size="6.70" font-weight="normal" font-style="normal" fill="#ffffff" textLength="16.0" lengthAdjust="spacingAndGlyphs">2030</text>
<rect x="10.5" y="331.4" width="21.6" height="7.9" rx="2.8" fill="#878787"/>
<text x="13.3" y="337.5" font-size="6.70" font-weight="normal" font-style="normal" fill="#ffffff" textLength="16.0" lengthAdjust="spacingAndGlyphs">2019</text>
<path d="M98.2 304.0 L98.2 321.0 M91.6 310.0 L98.2 304.1 L104.8 310.0" stroke="#55c1c5" stroke-width="2.1" fill="none" stroke-linecap="butt" stroke-linejoin="miter"/>
<line x1="98.2" y1="324.4" x2="98.2" y2="339.5" stroke="#55c1c5" stroke-width="2.1" stroke-linecap="round" stroke-dasharray="0 3.5"/>
<text x="112.7" y="314.7" font-size="17.80" font-weight="normal" font-style="normal" fill="#55c1c5" textLength="33.5" lengthAdjust="spacingAndGlyphs" stroke="#55c1c5" stroke-width="0.25">55%</text>
<text x="112.7" y="322.6" font-size="9.80" font-weight="normal" font-style="normal" fill="#55c1c5" textLength="42.4" lengthAdjust="spacingAndGlyphs" stroke="#55c1c5" stroke-width="0.3">aumento</text>
<text x="137.8" y="382.1" font-size="11.00" font-weight="bold" font-style="normal" fill="#9b5283" textLength="32.4" lengthAdjust="spacingAndGlyphs" stroke="#9b5283" stroke-width="0.35">África</text>
<rect x="137.4" y="388.4" width="21.6" height="7.9" rx="2.8" fill="#878787"/>
<text x="140.2" y="394.5" font-size="6.70" font-weight="normal" font-style="normal" fill="#ffffff" textLength="16.0" lengthAdjust="spacingAndGlyphs">2045</text>
<text x="164.6" y="396.6" font-size="10.30" font-weight="bold" font-style="normal" fill="#151515" textLength="53.6" lengthAdjust="spacingAndGlyphs">47millones</text>
<rect x="137.4" y="403.5" width="21.6" height="7.9" rx="2.8" fill="#878787"/>
<text x="140.2" y="409.6" font-size="6.70" font-weight="normal" font-style="normal" fill="#ffffff" textLength="16.0" lengthAdjust="spacingAndGlyphs">2030</text>
<text x="163.0" y="411.7" font-size="10.30" font-weight="bold" font-style="normal" fill="#151515" textLength="55.2" lengthAdjust="spacingAndGlyphs">29 millones</text>
<rect x="137.4" y="418.5" width="21.6" height="7.9" rx="2.8" fill="#878787"/>
<text x="140.2" y="424.6" font-size="6.70" font-weight="normal" font-style="normal" fill="#ffffff" textLength="16.0" lengthAdjust="spacingAndGlyphs">2019</text>
<text x="163.0" y="426.7" font-size="10.30" font-weight="bold" font-style="normal" fill="#151515" textLength="54.0" lengthAdjust="spacingAndGlyphs">19 millones</text>
<path d="M224.8 391.8 L224.8 410.0 M218.2 397.8 L224.8 391.9 L231.4 397.8" stroke="#9b5283" stroke-width="2.1" fill="none" stroke-linecap="butt" stroke-linejoin="miter"/>
<line x1="224.8" y1="413.4" x2="224.8" y2="428.5" stroke="#9b5283" stroke-width="2.1" stroke-linecap="round" stroke-dasharray="0 3.5"/>
<text x="237.8" y="403.1" font-size="17.80" font-weight="normal" font-style="normal" fill="#9b5283" textLength="42.2" lengthAdjust="spacingAndGlyphs" stroke="#9b5283" stroke-width="0.25">143%</text>
<text x="237.8" y="412.1" font-size="9.80" font-weight="normal" font-style="normal" fill="#9b5283" textLength="42.8" lengthAdjust="spacingAndGlyphs" stroke="#9b5283" stroke-width="0.3">aumento</text>
<text x="345.9" y="381.5" font-size="11.00" font-weight="bold" font-style="normal" fill="#f08a22" textLength="179.1" lengthAdjust="spacingAndGlyphs" stroke="#f08a22" stroke-width="0.35">Medio Oriente y África del Norte</text>
<rect x="345.0" y="388.8" width="21.6" height="7.9" rx="2.8" fill="#878787"/>
<text x="347.8" y="394.9" font-size="6.70" font-weight="normal" font-style="normal" fill="#ffffff" textLength="16.0" lengthAdjust="spacingAndGlyphs">2045</text>
<text x="370.5" y="397.0" font-size="10.40" font-weight="bold" font-style="normal" fill="#151515" textLength="62.1" lengthAdjust="spacingAndGlyphs">108 millones</text>
<rect x="345.0" y="403.8" width="21.6" height="7.9" rx="2.8" fill="#878787"/>
<text x="347.8" y="409.9" font-size="6.70" font-weight="normal" font-style="normal" fill="#ffffff" textLength="16.0" lengthAdjust="spacingAndGlyphs">2030</text>
<text x="370.5" y="412.0" font-size="10.40" font-weight="bold" font-style="normal" fill="#151515" textLength="58.5" lengthAdjust="spacingAndGlyphs">76&#160;&#160;millones</text>
<rect x="345.0" y="418.5" width="21.6" height="7.9" rx="2.8" fill="#878787"/>
<text x="347.8" y="424.6" font-size="6.70" font-weight="normal" font-style="normal" fill="#ffffff" textLength="16.0" lengthAdjust="spacingAndGlyphs">2019</text>
<text x="370.5" y="426.7" font-size="10.40" font-weight="bold" font-style="normal" fill="#151515" textLength="56.5" lengthAdjust="spacingAndGlyphs">55 millones</text>
<path d="M442.0 390.8 L442.0 409.0 M435.4 396.8 L442.0 390.9 L448.6 396.8" stroke="#f08a22" stroke-width="2.1" fill="none" stroke-linecap="butt" stroke-linejoin="miter"/>
<line x1="442.0" y1="412.4" x2="442.0" y2="428.1" stroke="#f08a22" stroke-width="2.1" stroke-linecap="round" stroke-dasharray="0 3.5"/>
<text x="455.2" y="403.0" font-size="17.80" font-weight="normal" font-style="normal" fill="#f08a22" textLength="33.8" lengthAdjust="spacingAndGlyphs" stroke="#f08a22" stroke-width="0.25">96%</text>
<text x="456.0" y="411.0" font-size="9.80" font-weight="normal" font-style="normal" fill="#f08a22" textLength="42.5" lengthAdjust="spacingAndGlyphs" stroke="#f08a22" stroke-width="0.3">aumento</text>
<text x="36.0" y="308.0" font-size="10.10" font-weight="bold" font-style="normal" fill="#151515" textLength="11.8" lengthAdjust="spacingAndGlyphs" stroke="#151515" stroke-width="0.25">49</text>
<text x="54.0" y="308.0" font-size="7.40" font-weight="bold" font-style="normal" fill="#151515" textLength="32.2" lengthAdjust="spacingAndGlyphs">millones</text>
<text x="36.0" y="324.2" font-size="10.10" font-weight="bold" font-style="normal" fill="#151515" textLength="11.8" lengthAdjust="spacingAndGlyphs" stroke="#151515" stroke-width="0.25">40</text>
<text x="54.0" y="324.2" font-size="7.40" font-weight="bold" font-style="normal" fill="#151515" textLength="32.2" lengthAdjust="spacingAndGlyphs">millones</text>
<text x="36.0" y="339.4" font-size="10.10" font-weight="bold" font-style="normal" fill="#151515" textLength="11.5" lengthAdjust="spacingAndGlyphs" stroke="#151515" stroke-width="0.25">32</text>
<text x="52.8" y="339.4" font-size="7.40" font-weight="bold" font-style="normal" fill="#151515" textLength="32.2" lengthAdjust="spacingAndGlyphs">millones</text>
<text x="22.8" y="461.8" font-size="13.20" font-weight="normal" font-style="italic" fill="#2e2e2e" textLength="203.6" lengthAdjust="spacingAndGlyphs">ATLAS DE LA DIABETES DE LA FID 2019</text>
<text x="652.7" y="35.6" font-size="9.20" font-weight="normal" font-style="normal" fill="#000000" textLength="41.5" lengthAdjust="spacingAndGlyphs" stroke="#000000" stroke-width="0.45">Federación</text>
<text x="652.7" y="43.2" font-size="9.20" font-weight="normal" font-style="normal" fill="#000000" textLength="49.5" lengthAdjust="spacingAndGlyphs" stroke="#000000" stroke-width="0.45">Internacional</text>
<text x="652.4" y="51.7" font-size="9.20" font-weight="normal" font-style="normal" fill="#000000" textLength="44.8" lengthAdjust="spacingAndGlyphs" stroke="#000000" stroke-width="0.45">de Diabetes</text>
<g>
<circle cx="569.9" cy="33.4" r="15.8" fill="none" stroke="#4a8bcd" stroke-width="5.8"/>
<g fill="none" stroke="#c3162f" stroke-width="0.85" stroke-linecap="round" stroke-linejoin="round">
<path d="M615.6 15.9 C620.5 16.3 625.8 18.6 629.6 21.7 C630 23.4 629.3 24.9 627.6 25.4 C623.2 25.1 618.6 22.4 615.6 15.9Z" fill="#b8142d" stroke="none"/>
<path d="M603.6 25.2 C608.2 23.4 613.6 23.0 619.6 23.7"/>
<path d="M603.6 25.2 C608.4 28.0 615.6 30.9 624.4 32.4"/>
<path d="M629.6 21.7 C631.0 20.3 634.6 20.0 636.2 21.6 L645.6 21.3"/>
<path d="M636.2 21.6 C635.8 23.6 634.2 25.6 633.4 27.8 C632.4 31.6 628.6 34.6 624.4 32.4"/>
<path d="M624.4 32.4 C620.6 38.2 616.8 44.0 615.0 48.6 C614.4 50.8 616.2 52.2 618.4 51.0"/>
<path d="M633.4 27.8 C628.6 33.0 623.0 40.0 618.8 47.4"/>
<circle cx="634.0" cy="39.4" r="10.9" stroke-width="0.8"/>
<path d="M631.2 28.8 C629.4 34 629.4 45 631.2 50.2"/>
<path d="M638.0 28.9 C640.0 34 640.0 45 638.0 50.0"/>
<path d="M623.6 38.6 L644.8 38.6"/>
<path d="M625.0 44.8 L643.6 44.8"/>
</g>
<circle cx="633.6" cy="22.0" r="0.5" fill="#c3162f"/>
</g>
</svg>
</body></html>
